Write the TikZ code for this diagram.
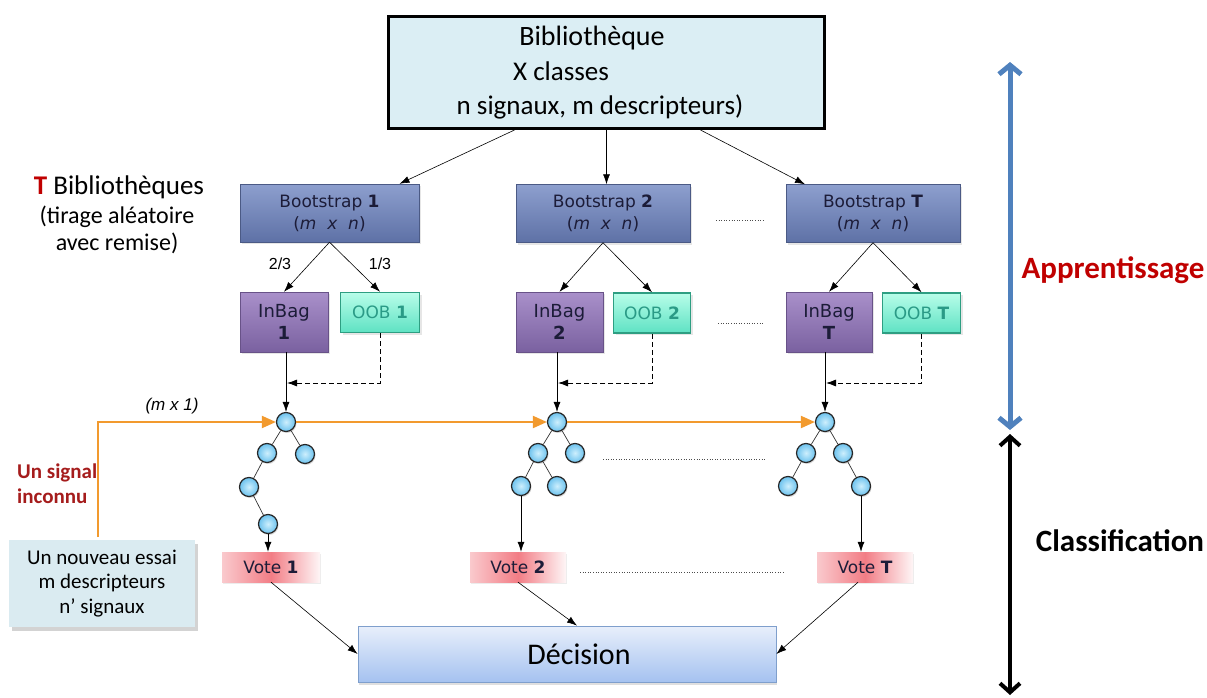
\documentclass[tikz,border=0pt]{standalone}
\usepackage{fontspec}
\setmainfont{Carlito}
\newfontfamily\vfont{DejaVu Sans}
\newfontfamily\afont{Liberation Sans}
\usetikzlibrary{arrows.meta,shadows}
\definecolor{topfill}{HTML}{DBEEF4}
\definecolor{bstop}{HTML}{8D9FCE}
\definecolor{bsbot}{HTML}{5E71A6}
\definecolor{ibtop}{HTML}{A990CA}
\definecolor{ibbot}{HTML}{7A61A0}
\definecolor{oobtop}{HTML}{B8FDE9}
\definecolor{oobbot}{HTML}{5EE2C3}
\definecolor{oobline}{HTML}{2E9E82}
\definecolor{oobtext}{HTML}{2A9A86}
\definecolor{vred}{HTML}{F06670}
\definecolor{dectop}{HTML}{E8EFFB}
\definecolor{decbot}{HTML}{A5C2F0}
\definecolor{decline}{HTML}{7F9FCC}
\definecolor{essfill}{HTML}{DAEBF1}
\definecolor{orng}{HTML}{F29A2E}
\definecolor{darkred}{HTML}{A51C1C}
\definecolor{appred}{HTML}{C00000}
\definecolor{bluearr}{HTML}{4F81BD}
\definecolor{ballin}{HTML}{CDEFFD}
\definecolor{ballout}{HTML}{6CC2EE}
\definecolor{navytext}{HTML}{1C1C38}
\tikzset{
  topbox/.style={draw=black, line width=3pt, fill=topfill, minimum width=436pt, minimum height=112pt, inner sep=0pt},
  bsbox/.style={top color=bstop, bottom color=bsbot, draw=bsbot!80!black, line width=0.4pt, minimum height=58pt, inner sep=0pt, align=center, text=navytext, font=\vfont\fontsize{17}{22}\selectfont, drop shadow={shadow xshift=2pt, shadow yshift=-2pt, opacity=0.2}},
  ibbox/.style={top color=ibtop, bottom color=ibbot, draw=ibbot!85!black, line width=0.4pt, minimum height=60pt, inner sep=0pt, align=center, text=navytext, font=\vfont\fontsize{18}{22}\selectfont, drop shadow={shadow xshift=2pt, shadow yshift=-2pt, opacity=0.2}},
  oobbox/.style={top color=oobtop, bottom color=oobbot, draw=oobline, line width=1.5pt, minimum height=40pt, inner sep=0pt, text=oobtext, font=\vfont\fontsize{17}{20}\selectfont, drop shadow={shadow xshift=2pt, shadow yshift=-2pt, opacity=0.2}},
  votebox/.style={left color=vred!35!white, right color=vred!6!white, middle color=vred!85!white, minimum height=30pt, inner sep=0pt, text=navytext, font=\vfont\fontsize{17}{20}\selectfont, drop shadow={shadow xshift=1pt, shadow yshift=-2pt, opacity=0.15}},
  tn/.style={circle, minimum size=19pt, inner sep=0pt, shading=radial, inner color=ballin, outer color=ballout, draw=black!85, line width=1.2pt, drop shadow={shadow xshift=1pt, shadow yshift=-1.5pt, opacity=0.3}},
  te/.style={draw=black!80, line width=0.7pt},
  arr/.style={draw=black, line width=0.6pt, -{Latex[length=10pt,width=7pt]}},
  darr/.style={draw=black, line width=0.8pt, dash pattern=on 5pt off 3pt, -{Latex[length=10pt,width=7pt]}},
  oarr/.style={draw=orng, line width=2pt, -{Triangle[length=14pt,width=12pt]}},
  dots/.style={draw=black!70, line width=0.6pt, dotted},
}
\begin{document}
\begin{tikzpicture}[x=1pt,y=-1pt]
\useasboundingbox (0,0) rectangle (1207,698);

% top library box
\node[topbox] (top) at (606.5,72.5) {};
\node[font=\fontsize{28}{32}\selectfont, anchor=base] (tt1) at (592,46) {Bibliothèque};
\node[font=\fontsize{27}{32}\selectfont, anchor=base west, inner sep=0pt] (tt2) at (513,81) {X classes};
\node[font=\fontsize{27}{32}\selectfont, anchor=base] (tt3) at (600,115) {n signaux, m descripteurs)};

% left title
\node[font=\fontsize{27}{32}\selectfont, anchor=base] (tb) at (119,194) {\textcolor{appred}{\textbf{T}} Bibliothèques};
\node[font=\fontsize{24}{27}\selectfont, align=center, anchor=north] (tb2) at (117,202) {(tirage aléatoire\\avec remise)};

% bootstraps
\node[bsbox, minimum width=179pt] (b1) at (329.5,213) {Bootstrap \textbf{1}\\({\itshape m\ \ x\ \ n})};
\node[bsbox, minimum width=174pt] (b2) at (603,213.5) {Bootstrap \textbf{2}\\({\itshape m\ \ x\ \ n})};
\node[bsbox, minimum width=174pt] (bT) at (873,213.5) {Bootstrap \textbf{T}\\({\itshape m\ \ x\ \ n})};

\coordinate (s1) at ([xshift=-92pt]top.south);
\coordinate (s2) at ([xshift=0pt]top.south);
\coordinate (s3) at ([xshift=94pt]top.south);
\draw[arr] (s1) -- ([xshift=70pt]b1.north);
\draw[arr] (s2) -- (s2 |- b2.north);
\draw[arr] (s3) -- ([xshift=-68pt]bT.north);

% inbag / oob
\node[ibbox, minimum width=88pt] (ib1) at (284,322) {InBag\\\textbf{1}};
\node[ibbox, minimum width=87pt] (ib2) at (559.5,322) {InBag\\\textbf{2}};
\node[ibbox, minimum width=86pt] (ibT) at (829,322) {InBag\\\textbf{T}};
\node[oobbox, minimum width=79pt] (oob1) at (380,312.5) {OOB \textbf{1}};
\node[oobbox, minimum width=77pt] (oob2) at (652,313) {OOB \textbf{2}};
\node[oobbox, minimum width=78pt] (oobT) at (921.5,313) {OOB \textbf{T}};

\node[font=\afont\fontsize{16}{18}\selectfont] (f23) at (280,264) {2/3};
\node[font=\afont\fontsize{16}{18}\selectfont] (f13) at (380,264) {1/3};

\foreach \b/\i/\o in {b1/ib1/oob1, b2/ib2/oob2, bT/ibT/oobT}{
  \draw[arr] (\b.south) -- (\i.north);
  \draw[arr] (\b.south) -- (\o.north);
}

\draw[dots] (716,220) -- (763,220);
\draw[dots] (718,323) -- (763,323);

% trees
\node[tn] (r1) at (286,422) {};
\node[tn] (t1a) at (267,453) {};
\node[tn] (t1b) at (305,454) {};
\node[tn] (t1c) at (249,487) {};
\node[tn] (t1d) at (268,524) {};

\node[tn] (r2) at (557,422) {};
\node[tn] (t2a) at (538,453) {};
\node[tn] (t2b) at (575,453) {};
\node[tn] (t2c) at (521,486) {};
\node[tn] (t2d) at (557,486) {};

\node[tn] (rT) at (825,422) {};
\node[tn] (tTa) at (806,453) {};
\node[tn] (tTb) at (843,453) {};
\node[tn] (tTc) at (788,486) {};
\node[tn] (tTd) at (861,486) {};

\draw[te] (r1) -- (t1a) (r1) -- (t1b) (t1a) -- (t1c) (t1c) -- (t1d);
\draw[te] (r2) -- (t2a) (r2) -- (t2b) (t2a) -- (t2c) (t2a) -- (t2d);
\draw[te] (rT) -- (tTa) (rT) -- (tTb) (tTa) -- (tTc) (tTb) -- (tTd);

\draw[dots] (603,459) -- (766,459);

% inbag -> root, oob dashed
\coordinate (j1) at (287,383);
\coordinate (j2) at (558,383);
\coordinate (jT) at (826,383);
\draw[arr] (ib1.south -| r1) -- (r1.north);
\draw[arr] (ib2.south -| r2) -- (r2.north);
\draw[arr] (ibT.south -| rT) -- (rT.north);
\draw[darr] (oob1.south) |- (j1);
\draw[darr] (oob2.south) |- (j2);
\draw[darr] (oobT.south) |- (jT);

% votes
\node[votebox, minimum width=98pt] (v1) at (271,567) {Vote \textbf{1}};
\node[votebox, minimum width=96pt] (v2) at (518,567) {Vote \textbf{2}};
\node[votebox, minimum width=96pt] (vT) at (865,567) {Vote \textbf{T}};
\draw[dots] (580,572) -- (785,572);

\draw[arr] (t1d.south) -- (t1d.south |- v1.north);
\draw[arr] (t2c.south) -- (t2c.south |- v2.north);
\draw[arr] (tTd.south) -- (tTd.south |- vT.north);

% decision
\node[top color=dectop, bottom color=decbot, draw=decline, line width=0.8pt, minimum width=418pt, minimum height=56pt, inner sep=0pt, drop shadow={shadow xshift=1pt, shadow yshift=-2.5pt, opacity=0.25}] (dec) at (567,654) {};
\node[font=\fontsize{30}{36}\selectfont] (dect) at (579,654) {Décision};
\draw[arr] (v1.south) -- (dec.west);
\draw[arr] (v2.south) -- ([xshift=10pt]dec.north);
\draw[arr] ([xshift=-7pt]vT.south) -- (dec.east);

% new essay
\node[fill=essfill, minimum width=186pt, minimum height=87pt, inner sep=0pt, align=center, font=\fontsize{21}{24.5}\selectfont, drop shadow={shadow xshift=3pt, shadow yshift=-4pt, opacity=0.35}] (ess) at (102,583.5) {Un nouveau essai\\m descripteurs\\n’ signaux};

% orange signal path
\coordinate (os) at (98,537);
\draw[oarr] (os) |- (r1.west);
\draw[oarr] (r1.east) -- (r2.west);
\draw[oarr] (r2.east) -- (rT.west);
\node[font=\afont\itshape\fontsize{17}{20}\selectfont] (mx1) at (172,406) {(m x 1)};
\node[text=darkred, align=left, anchor=north west, inner sep=0pt, font=\bfseries\fontsize{21}{25}\selectfont] (sig) at (17,464) {Un signal\\inconnu};

% right arrows
\coordinate (ba1) at (1010,62);
\coordinate (ba2) at (1010,430);
\coordinate (ka1) at (1010,434);
\coordinate (ka2) at (1010,695);
\draw[bluearr, line width=5pt, {Straight Barb[length=9pt,width=22pt]}-{Straight Barb[length=9pt,width=22pt]}] (ba1) -- (ba2);
\draw[black, line width=4pt, {Straight Barb[length=9pt,width=20pt]}-{Straight Barb[length=9pt,width=20pt]}] (ka1) -- (ka2);
\node[text=appred, font=\bfseries\fontsize{31}{36}\selectfont] (app) at (1113,270) {Apprentissage};
\node[font=\bfseries\fontsize{31}{36}\selectfont] (cls) at (1120,541) {Classification};
\end{tikzpicture}
\end{document}
